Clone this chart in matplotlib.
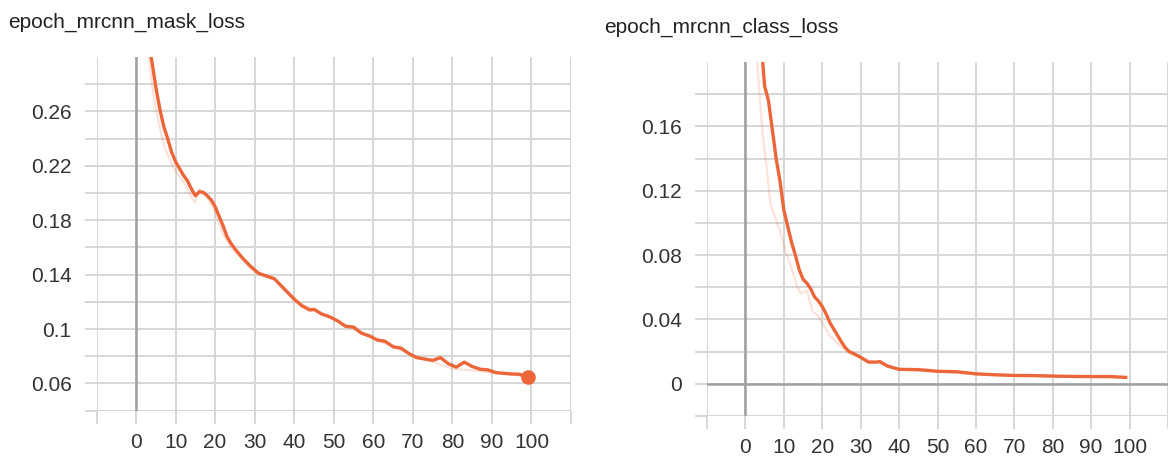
import matplotlib
matplotlib.use("Agg")
import matplotlib.pyplot as plt

# ---------------- data ----------------
mask_title = "epoch_mrcnn_mask_loss"
class_title = "epoch_mrcnn_class_loss"

x_tick_values = [0, 10, 20, 30, 40, 50, 60, 70, 80, 90, 100]
x_tick_labels = ["0", "10", "20", "30", "40", "50", "60", "70", "80", "90", "100"]

mask_ytick_values = [0.06, 0.10, 0.14, 0.18, 0.22, 0.26]
mask_ytick_labels = ["0.06", "0.1", "0.14", "0.18", "0.22", "0.26"]
class_ytick_values = [0.0, 0.04, 0.08, 0.12, 0.16]
class_ytick_labels = ["0", "0.04", "0.08", "0.12", "0.16"]

# smoothed mask loss
mask_epochs = [3, 4, 5, 6, 7, 8, 9, 10, 11, 12, 13, 14, 15, 16, 17, 18, 19, 20,
               21, 22, 23, 24, 25, 27, 29, 31, 33, 35, 36, 38, 40, 42, 44, 45,
               47, 49, 51, 53, 55, 57, 59, 61, 63, 65, 67, 69, 71, 73, 75, 77,
               79, 81, 83, 85, 87, 89, 91, 93, 95, 97, 99]
mask_loss = [0.312, 0.297, 0.278, 0.262, 0.249, 0.240, 0.230, 0.223, 0.218,
             0.213, 0.209, 0.203, 0.198, 0.201, 0.2005, 0.198, 0.195, 0.190,
             0.183, 0.176, 0.168, 0.163, 0.159, 0.152, 0.146, 0.141, 0.139,
             0.137, 0.134, 0.128, 0.122, 0.117, 0.114, 0.1145, 0.111, 0.109,
             0.106, 0.102, 0.1015, 0.097, 0.095, 0.092, 0.091, 0.087, 0.086,
             0.082, 0.079, 0.078, 0.077, 0.079, 0.0745, 0.072, 0.0757, 0.0725,
             0.0705, 0.0700, 0.068, 0.0675, 0.067, 0.0668, 0.0648]
# raw (unsmoothed) mask loss, faint
mask_raw_epochs = [3, 4, 5, 6, 7, 8, 9, 10, 12, 14, 15, 16, 18, 20, 22, 24,
                   26, 30, 35, 40, 50, 60, 70, 80, 90, 99]
mask_raw_loss = [0.305, 0.280, 0.262, 0.248, 0.236, 0.228, 0.222, 0.216,
                 0.208, 0.197, 0.193, 0.203, 0.197, 0.186, 0.170, 0.160,
                 0.154, 0.142, 0.136, 0.121, 0.107, 0.093, 0.081, 0.071,
                 0.068, 0.065]

# smoothed class loss
class_epochs = [4, 5, 6, 7, 8, 9, 10, 11, 12, 13, 14, 15, 16, 17, 18, 19, 20,
                21, 22, 23, 24, 25, 26, 27, 28, 30, 32, 34, 35, 37, 40, 45,
                50, 55, 60, 65, 70, 75, 80, 85, 90, 95, 99]
class_loss = [0.215, 0.185, 0.176, 0.158, 0.140, 0.126, 0.108, 0.098, 0.088,
              0.080, 0.071, 0.065, 0.0625, 0.059, 0.054, 0.0515, 0.048,
              0.0435, 0.038, 0.034, 0.030, 0.026, 0.0225, 0.020, 0.019,
              0.0165, 0.0135, 0.0135, 0.0138, 0.011, 0.009, 0.0088, 0.0078,
              0.0075, 0.0062, 0.0056, 0.0052, 0.0051, 0.0048, 0.0046, 0.0045,
              0.0045, 0.0040]
# raw class loss, faint
class_raw_epochs = [2.8, 3.5, 4.5, 5.5, 6.5, 7.5, 9, 10.5, 12, 13.5, 14.5, 16,
                    17.5, 19, 20.5, 22, 24, 26, 28, 30, 40, 60, 80, 99]
class_raw_loss = [0.210, 0.185, 0.155, 0.135, 0.112, 0.105, 0.095, 0.082,
                  0.072, 0.060, 0.056, 0.058, 0.045, 0.042, 0.036, 0.030,
                  0.025, 0.021, 0.018, 0.016, 0.009, 0.006, 0.0047, 0.004]

# ---------------- style ----------------
LINE = "#ec663a"
GRID = "#d6d6d6"
ZERO = "#a0a0a0"
TICKFONT = ["Liberation Sans", "DejaVu Sans"]
TITLEFONT = ["Liberation Sans", "DejaVu Sans"]

W, H = 1168, 459
fig = plt.figure(figsize=(W / 100, H / 100), dpi=100)


def px_axes(left, right, top, bottom):
    return fig.add_axes([left / W, (H - bottom) / H, (right - left) / W, (bottom - top) / H])


def style(ax, xlim, ylim, yvals, ylabels, yminor):
    ax.set_xlim(*xlim)
    ax.set_ylim(*ylim)
    ax.set_xticks(x_tick_values)
    ax.set_xticklabels(x_tick_labels)
    ax.set_xticks([-10, 110], minor=True)
    ax.set_yticks(yvals)
    ax.set_yticklabels(ylabels)
    ax.set_yticks(yminor, minor=True)
    ax.grid(which="both", color=GRID, lw=1.4, zorder=0)
    ax.set_axisbelow(True)
    for s in ax.spines.values():
        s.set_visible(False)
    ax.tick_params(which="both", direction="out", length=9, width=1.4,
                   color=GRID, labelcolor="#333333")
    ax.tick_params(axis="x", which="both", pad=7)
    ax.tick_params(axis="y", which="both", pad=9)
    for lab in ax.get_xticklabels() + ax.get_yticklabels():
        lab.set_family(TICKFONT)
        lab.set_fontsize(15)


# left: mask loss
ax1 = px_axes(96.5, 571, 57, 410.7)
style(ax1, (-10, 110), (0.04, 0.30), mask_ytick_values, mask_ytick_labels,
      [0.04, 0.08, 0.12, 0.16, 0.20, 0.24, 0.28])
ax1.axvline(0, color=ZERO, lw=1.8, zorder=1)
ax1.plot(mask_raw_epochs, mask_raw_loss, color=LINE, lw=1.6, alpha=0.18, zorder=2)
ax1.plot(mask_epochs, mask_loss, color=LINE, lw=2.4, zorder=3)
ax1.plot(mask_epochs[-1], mask_loss[-1], "o", ms=9.5, color=LINE, zorder=4)

# right: class loss
ax2 = px_axes(707, 1168, 62, 416)
style(ax2, (-10, 108.5), (-0.02, 0.20), class_ytick_values, class_ytick_labels,
      [-0.02, 0.02, 0.06, 0.10, 0.14, 0.18])
ax2.axvline(0, color=ZERO, lw=1.8, zorder=1)
ax2.axhline(0, color=ZERO, lw=1.8, zorder=1)
ax2.plot(class_raw_epochs, class_raw_loss, color=LINE, lw=1.6, alpha=0.18, zorder=2)
ax2.plot(class_epochs, class_loss, color=LINE, lw=2.4, zorder=3)

# titles
fig.text(8 / W, 1 - 28 / H, mask_title, family=TITLEFONT, fontsize=15,
         color="#222222", ha="left", va="baseline")
fig.text(604 / W, 1 - 33 / H, class_title, family=TITLEFONT, fontsize=15,
         color="#222222", ha="left", va="baseline")

fig.savefig("out.png", dpi=100, facecolor="white")
